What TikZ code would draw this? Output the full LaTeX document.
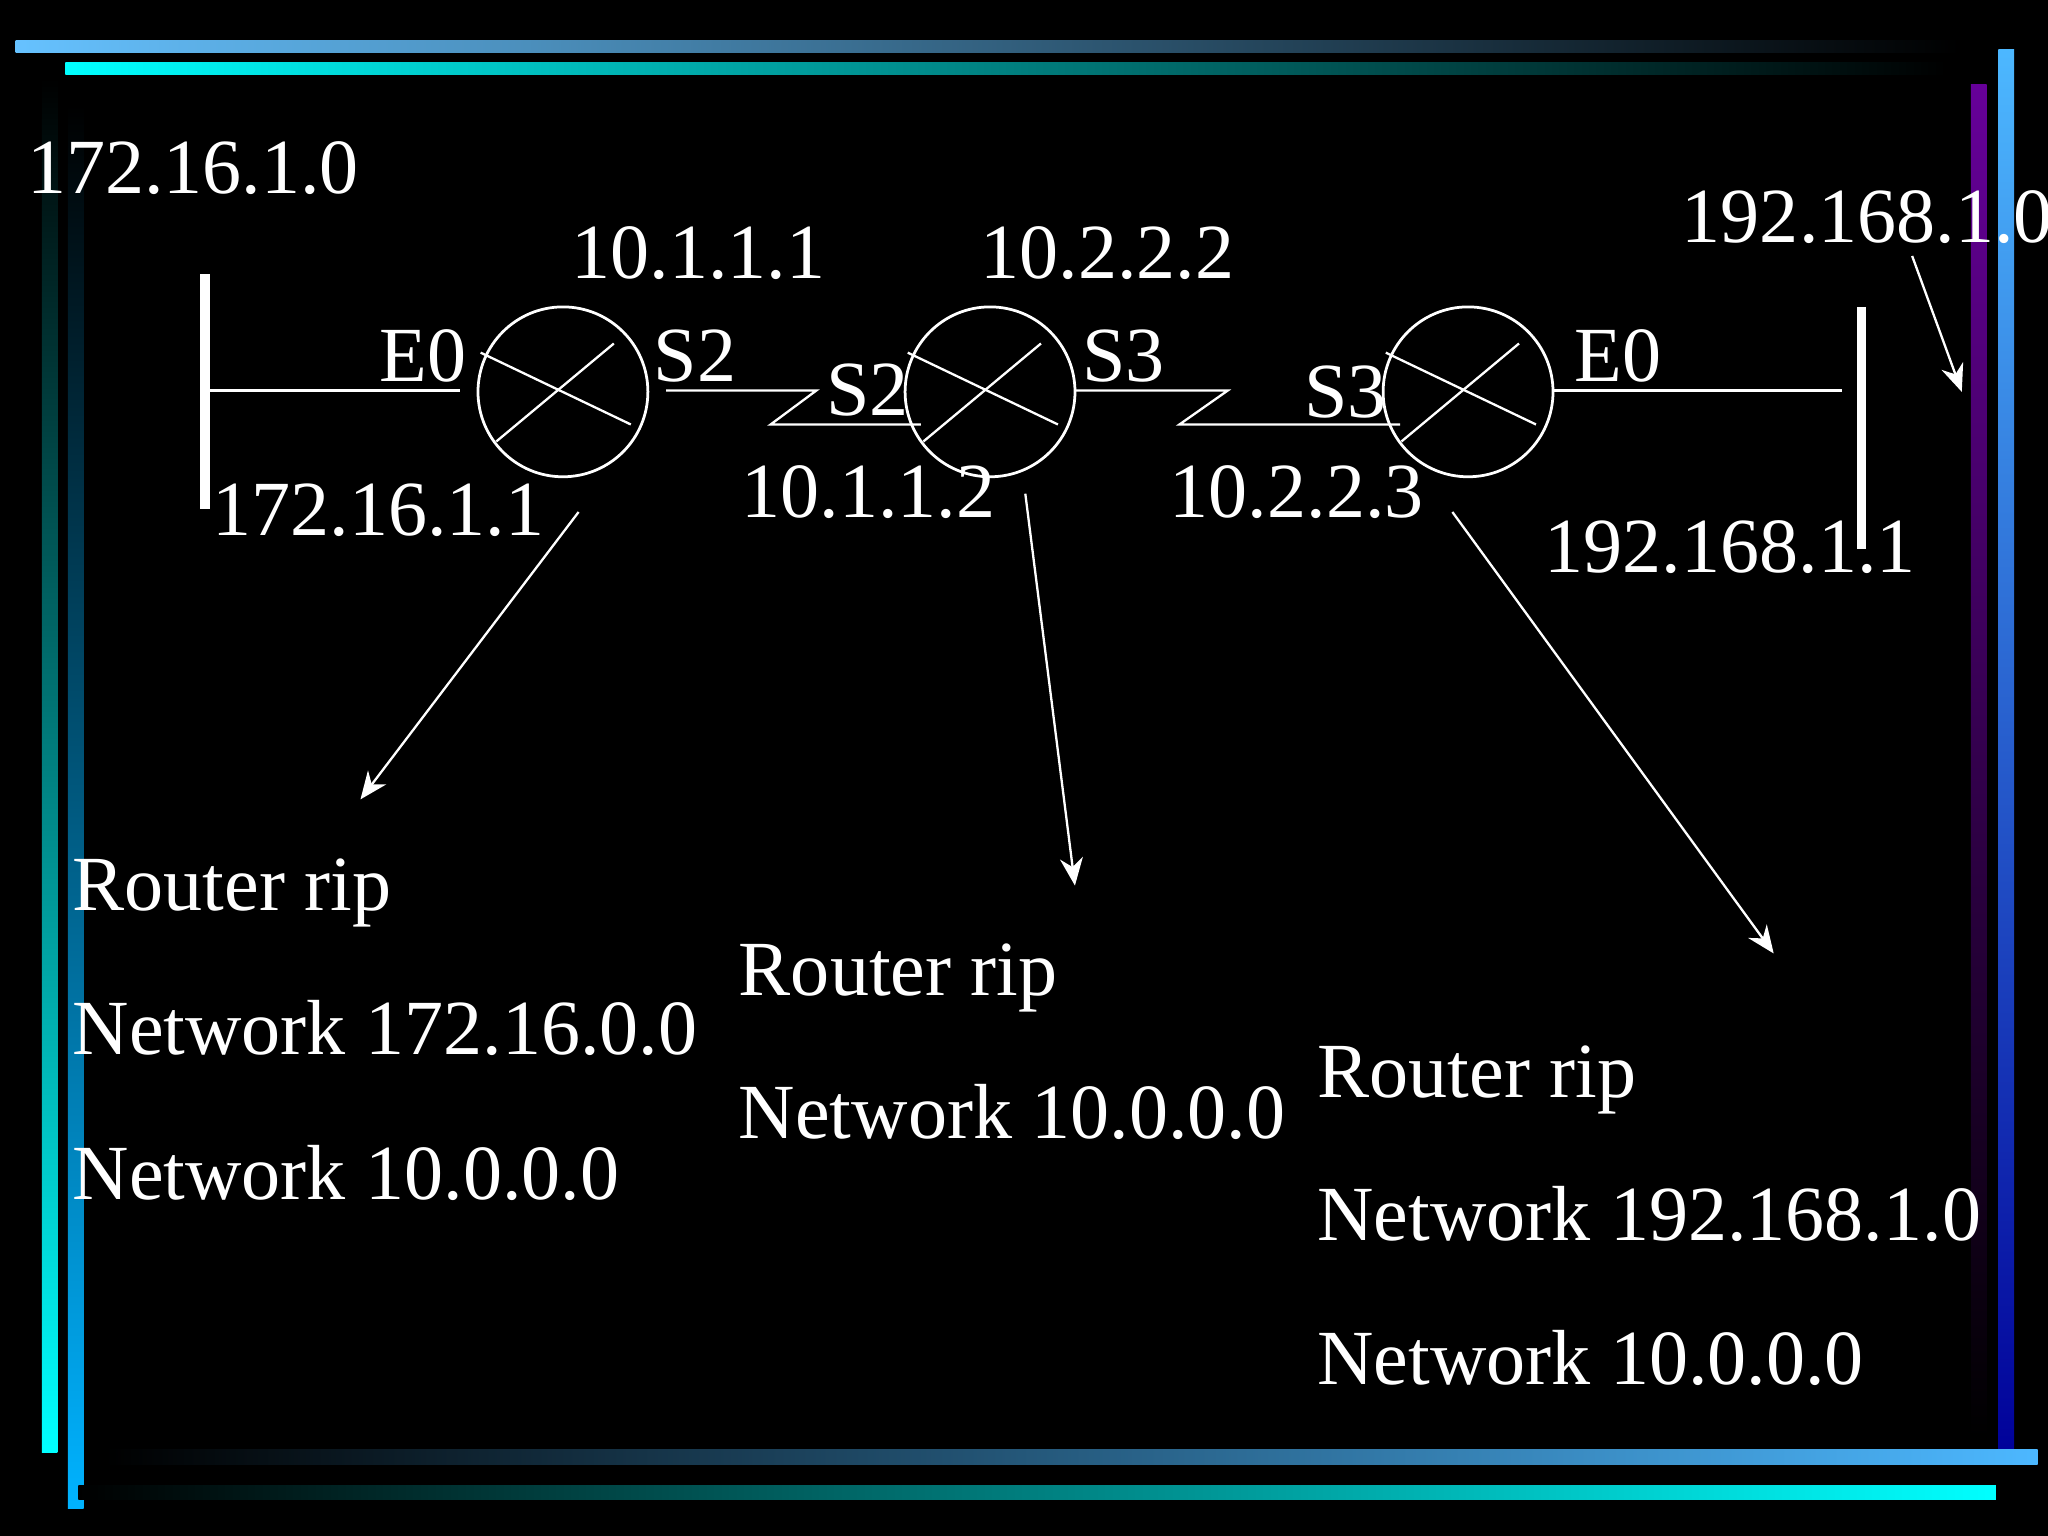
\documentclass[tikz,border=0pt]{standalone}
\usepackage{fontspec}
\setmainfont{Liberation Serif}
\usetikzlibrary{calc,arrows.meta}
\begin{document}
\begin{tikzpicture}[x=0.01cm,y=-0.01cm,
  lbl/.style={text=white,anchor=base west,inner sep=0pt,font=\fontsize{17}{20}\selectfont},
  ln/.style={draw=white,line width=0.5pt},
  arr/.style={draw=white,line width=0.5pt,-{Stealth[length=6pt,width=5pt]}},
  router/.style={circle,draw=white,line width=0.6pt,minimum size=1.3cm,inner sep=0pt}]
\fill[black] (0,0) rectangle (1568,1176);
\useasboundingbox (0,0) rectangle (1568,1176);
% frame bars
\shade[left color=blue!40!cyan!60!white,right color=black] (12,31) rectangle (1500,40);
\shade[left color=cyan,right color=black] (50,48) rectangle (1490,57);
\shade[top color=black,bottom color=cyan] (32,60) rectangle (44,1112);
\shade[top color=black,bottom color=cyan!70!blue] (52,80) rectangle (64,1155);
\shade[top color=violet!80!blue,bottom color=black] (1509,65) rectangle (1521,1100);
\shade[top color=blue!40!cyan!70!white,bottom color=blue!60!black] (1530,38) rectangle (1542,1120);
\shade[left color=black,right color=blue!40!cyan!70!white] (80,1110) rectangle (1560,1121);
\shade[left color=black,right color=cyan] (60,1137) rectangle (1528,1148);
% routers
\node[router] (r1) at (431,300) {};
\node[router] (r2) at (758,300) {};
\node[router] (r3) at (1124,300) {};
\foreach \r in {r1,r2,r3}{
  \draw[ln] ($(\r)+(-51,38)$) -- ($(\r)+(39,-37)$);
  \draw[ln] ($(\r)+(-63,-30)$) -- ($(\r)+(52,25)$);
}
% LANs
\coordinate (l1) at (157,210); \coordinate (l2) at (157,390);
\draw[white,line width=2pt] (l1) -- (l2);
\coordinate (la) at (160,299); \coordinate (lb) at (352,299);
\draw[ln] (la) -- (lb);
\coordinate (rb1) at (1425,235); \coordinate (rb2) at (1425,420);
\draw[white,line width=2pt] (rb1) -- (rb2);
\coordinate (ra) at (1190,299); \coordinate (rbb) at (1410,299);
\draw[ln] (ra) -- (rbb);
% serial links
\coordinate (s1a) at (510,299); \coordinate (s1b) at (625,299);
\coordinate (s1c) at (590,325); \coordinate (s1d) at (705,325);
\draw[ln] (s1a) -- (s1b) -- (s1c) -- (s1d);
\coordinate (s2a) at (823,299); \coordinate (s2b) at (940,299);
\coordinate (s2c) at (903,325); \coordinate (s2d) at (1072,325);
\draw[ln] (s2a) -- (s2b) -- (s2c) -- (s2d);
% labels
\node[lbl] (n1) at (20,148) {172.16.1.0};
\node[lbl] (n2) at (437,213) {10.1.1.1};
\node[lbl] (n3) at (750,213) {10.2.2.2};
\node[lbl] (n4) at (1287,186) {192.168.1.0};
\node[lbl] at (290,292) {E0};
\node[lbl] at (500,292) {S2};
\node[lbl] at (632,318) {S2};
\node[lbl] at (828,292) {S3};
\node[lbl] at (998,320) {S3};
\node[lbl] at (1205,292) {E0};
\node[lbl] at (162,410) {172.16.1.1};
\node[lbl] at (567,396) {10.1.1.2};
\node[lbl] at (895,396) {10.2.2.3};
\node[lbl] at (1182,438) {192.168.1.1};
\node[lbl] at (55,697) {Router rip};
\node[lbl] at (55,807) {Network 172.16.0.0};
\node[lbl] at (55,918) {Network 10.0.0.0};
\node[lbl] at (565,762) {Router rip};
\node[lbl] at (565,872) {Network 10.0.0.0};
\node[lbl] at (1008,840) {Router rip};
\node[lbl] at (1008,950) {Network 192.168.1.0};
\node[lbl] at (1008,1060) {Network 10.0.0.0};
% arrows
\coordinate (a1s) at (443,392); \coordinate (a1e) at (276,612);
\coordinate (a2s) at (785,378); \coordinate (a2e) at (823,678);
\coordinate (a3s) at (1112,392); \coordinate (a3e) at (1358,730);
\coordinate (a4s) at (1464,196); \coordinate (a4e) at (1502,300);
\draw[arr] (a1s) -- (a1e);
\draw[arr] (a2s) -- (a2e);
\draw[arr] (a3s) -- (a3e);
\draw[arr] (a4s) -- (a4e);
\end{tikzpicture}
\end{document}
